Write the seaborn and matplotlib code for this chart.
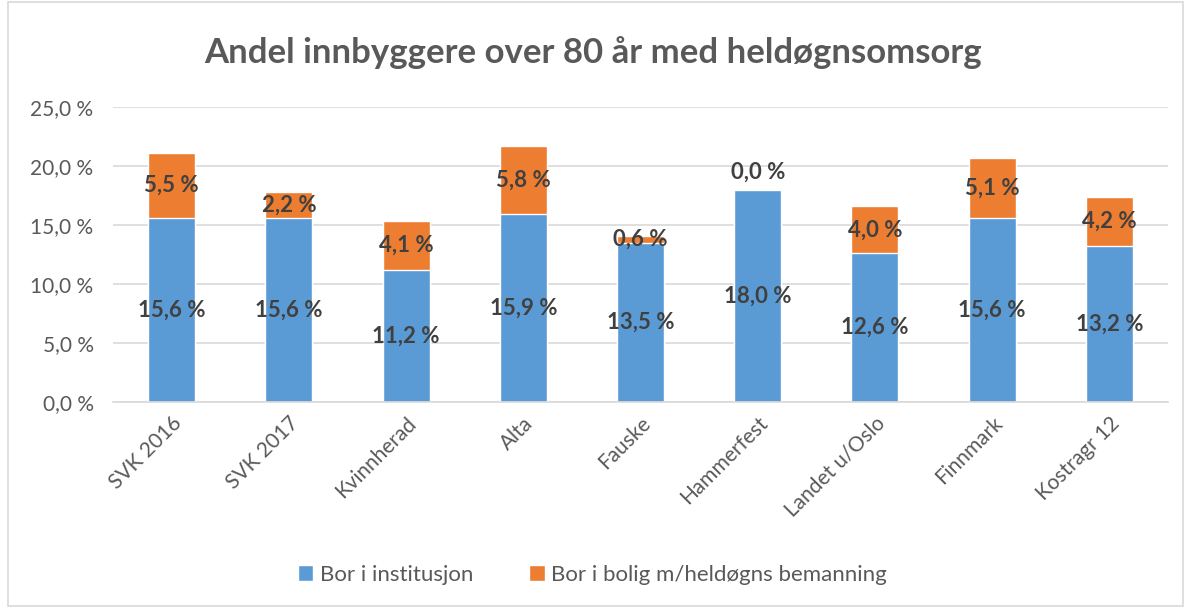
import pandas as pd
import matplotlib.pyplot as plt
import seaborn as sns
from matplotlib.patches import Rectangle

# Data
kommuner = ['SVK 2016', 'SVK 2017', 'Kvinnherad', 'Alta', 'Fauske',
            'Hammerfest', 'Landet u/Oslo', 'Finnmark', 'Kostragr 12']
institusjon = [15.6, 15.6, 11.2, 15.9, 13.5, 18.0, 12.6, 15.6, 13.2]
bolig = [5.5, 2.2, 4.1, 5.8, 0.6, 0.0, 4.0, 5.1, 4.2]

df = pd.DataFrame({'kommune': kommuner, 'institusjon': institusjon, 'bolig': bolig})
df['total'] = df['institusjon'] + df['bolig']

blue = '#5B9BD5'
orange = '#ED7D31'
grey = '#595959'

sns.set_style('white')
plt.rcParams['font.family'] = ['Lato', 'DejaVu Sans']

fig = plt.figure(figsize=(11.85, 6.07), dpi=100)
ax = fig.add_axes([113 / 1185, 1 - 402 / 607, 1055 / 1185, 295 / 607])

# stacked: draw the total first (orange), then the blue part on top
sns.barplot(data=df, x='kommune', y='total', color=orange, width=0.4,
            saturation=1, ax=ax, label='Bor i bolig m/heldøgns bemanning')
sns.barplot(data=df, x='kommune', y='institusjon', color=blue, width=0.4,
            saturation=1, ax=ax, label='Bor i institusjon')
handles, labels = ax.get_legend_handles_labels()
ax.get_legend().remove()

ax.set_ylim(0, 25)
ax.set_xlim(-0.5, len(kommuner) - 0.5)
ax.set_yticks([0, 5, 10, 15, 20, 25])
ax.set_yticklabels([f'{v:.1f} %'.replace('.', ',') for v in ax.get_yticks()],
                   fontsize=15, color=grey)
ax.yaxis.grid(True, color='#D9D9D9', linewidth=1.2)
ax.set_axisbelow(True)
for s in ['top', 'right', 'left']:
    ax.spines[s].set_visible(False)
ax.spines['bottom'].set_color('#D9D9D9')
ax.spines['bottom'].set_linewidth(1.2)
ax.tick_params(axis='y', length=0, pad=14)
ax.tick_params(axis='x', length=0, pad=8)
ax.set_xticks(range(len(kommuner)))
ax.set_xticklabels(kommuner, rotation=45, ha='right', rotation_mode='anchor',
                   fontsize=15, color=grey)
ax.set_xlabel('')
ax.set_ylabel('')

# data labels
for i, row in df.iterrows():
    ax.text(i, row['institusjon'] / 2, f"{row['institusjon']:.1f} %".replace('.', ','),
            ha='center', va='center', fontsize=16, fontweight='bold', color='#404040')
    yb = row['institusjon'] + row['bolig'] / 2
    if row['bolig'] == 0:
        yb = row['institusjon'] + 1.5
    ax.text(i, yb, f"{row['bolig']:.1f} %".replace('.', ','),
            ha='center', va='center', fontsize=16, fontweight='bold', color='#404040')

fig.text(0.5, 1 - 53 / 607, 'Andel innbyggere over 80 år med heldøgnsomsorg',
         ha='center', va='center', fontsize=25, fontweight='bold', color=grey)

leg = fig.legend(handles[::-1], labels[::-1], loc='center', ncol=2,
                 bbox_to_anchor=(0.5, 1 - 575 / 607), frameon=False, fontsize=16,
                 handlelength=0.7, handleheight=0.7, handletextpad=0.3, columnspacing=2.5)
for t in leg.get_texts():
    t.set_color(grey)

fig.patches.append(Rectangle((8 / 1185, 0.002), 1 - 10 / 1185, 0.995,
                             transform=fig.transFigure, fill=False,
                             edgecolor='#D9D9D9', linewidth=1.2))

plt.savefig('out.png', dpi=100)
